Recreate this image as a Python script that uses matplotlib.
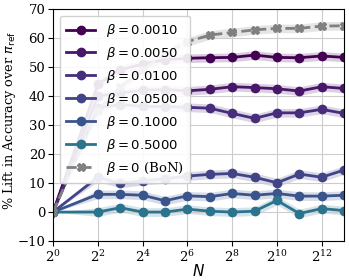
import numpy as np
import matplotlib
matplotlib.use('Agg')
import matplotlib.pyplot as plt
from matplotlib.ticker import FixedLocator, LogFormatterSciNotation, NullLocator

plt.rcParams['font.family'] = 'DejaVu Serif'

# valores de N (potencias de 2)
N = [1, 4, 8, 16, 32, 64, 128, 256, 512, 1024, 2048, 4096, 8192]

betas = ['0.0010', '0.0050', '0.0100', '0.0500', '0.1000', '0.5000']

lift_b0001 = [0, 44, 49, 51, 52.5, 53.0, 53.2, 53.3, 54.1, 53.3, 53.2, 53.8, 53.3]
lift_b0005 = [0, 40, 41, 42, 42.2, 41.8, 42.3, 43.2, 42.9, 42.5, 41.7, 43.2, 42.6]
lift_b001 = [0, 36, 37, 36.5, 36.3, 36.1, 35.8, 34.0, 32.3, 34.2, 34.2, 35.4, 34.0]
lift_b005 = [0, 12.0, 9.9, 10.8, 11.5, 12.4, 13.0, 13.3, 12.0, 10.1, 13.1, 12.0, 14.5]
lift_b01 = [0, 6.1, 6.1, 5.8, 3.9, 5.6, 5.3, 6.4, 5.8, 6.4, 5.5, 5.5, 5.8]
lift_b05 = [0, 0.0, 1.5, 0.0, 0.0, 1.0, 0.3, 0.0, 0.3, 4.0, -0.5, 1.2, 0.5]
lift_bon = [0, 35, 43, 49, 54.5, 58.7, 61.0, 61.9, 62.8, 63.3, 63.3, 64.1, 64.2]

# largura da faixa de erro
err = [0, 1.5, 1.5, 1.5, 1.5, 1.5, 1.5, 1.5, 1.5, 1.5, 1.5, 1.5, 1.5]

xticks = [1, 4, 16, 64, 256, 1024, 4096]

series = [lift_b0001, lift_b0005, lift_b001, lift_b005, lift_b01, lift_b05]
cores = plt.cm.viridis([0.0, 0.06, 0.13, 0.2, 0.26, 0.38])

fig = plt.figure(figsize=(3.49, 2.8), dpi=100)
ax = fig.add_axes([0.152, 0.139, 0.834, 0.829])

x = np.array(N)
e = np.array(err)
for b, y, c in zip(betas, series, cores):
    y = np.array(y)
    ax.fill_between(x, y - e, y + e, color=c, alpha=0.2, linewidth=0)
    ax.plot(x, y, color=c, marker='o', markersize=6, linewidth=2,
            label=r'$\beta = %s$' % b)

yb = np.array(lift_bon)
ax.fill_between(x, yb - e, yb + e, color='gray', alpha=0.2, linewidth=0)
ax.plot(x, yb, color='gray', marker='X', markersize=6, linewidth=2,
        linestyle='--', label=r'$\beta = 0$ (BoN)')

ax.set_xscale('log', base=2)
ax.xaxis.set_major_locator(FixedLocator(xticks))
ax.xaxis.set_major_formatter(LogFormatterSciNotation(base=2))
ax.xaxis.set_minor_locator(NullLocator())
ax.set_xlim(1, 8192)
ax.set_ylim(-10, 70)
ax.set_yticks(range(-10, 71, 10))
ax.grid(True, color='#cccccc', linewidth=0.8)
ax.tick_params(labelsize=9.5, pad=2)

ax.set_xlabel(r'$N$', fontsize=11, labelpad=-1)
ax.set_ylabel(r'% Lift in Accuracy over $\pi_{\mathrm{ref}}$', fontsize=9.3)
ax.yaxis.set_label_coords(-0.12, 0.52)
ax.legend(loc='upper left', fontsize=9.5, framealpha=0.9, labelspacing=0.45,
          borderpad=0.5, handlelength=2.2, borderaxespad=0.5)

fig.savefig('out.png', dpi=100)
